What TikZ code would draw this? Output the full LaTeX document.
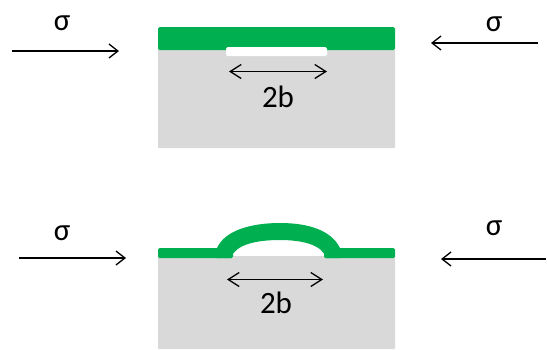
\documentclass[tikz,border=0pt]{standalone}
\usepackage{fontspec}
\setmainfont{Carlito}
\usetikzlibrary{arrows.meta}
\definecolor{filmgreen}{HTML}{00B050}
\definecolor{subgrey}{HTML}{D9D9D9}
\tikzset{
  x=1pt,y=-1pt,
  lab/.style={font=\fontsize{31}{33}\selectfont,text=black,inner sep=0pt,anchor=base},
  stress/.style={draw=black,line width=1.3pt,-{Straight Barb[length=9pt,width=14pt,line width=1.3pt]}},
  crack/.style={draw=black,line width=1.3pt,{Straight Barb[length=11pt,width=14pt,line width=1.3pt]}-{Straight Barb[length=11pt,width=14pt,line width=1.3pt]}},
  grey block/.style={fill=subgrey,draw=none,rounded corners=1pt},
  film/.style={fill=filmgreen,draw=none,rounded corners=1.5pt},
}
\begin{document}
\begin{tikzpicture}
\useasboundingbox (0,0) rectangle (547,349);
% top specimen
\path[grey block] (158,49) rectangle (395,148);
\path[film] (158,27) rectangle (395,50);
\path[fill=white,rounded corners=1.5pt] (226,47) rectangle (327,56);
\coordinate (c1l) at (229,71.5);
\coordinate (c1r) at (327,71.5);
\draw[crack] (c1l) -- (c1r);
\node[lab] (b1) at (278,107.5) {2b};
% bottom specimen
\path[grey block] (158,255) rectangle (395,349);
\path[fill=white] (231,250) rectangle (326,256);
\path[fill=filmgreen,rounded corners=1.5pt] (158,248) rectangle (233,258);
\path[fill=filmgreen,rounded corners=1.5pt] (324,248) rectangle (395,258);
\path[fill=filmgreen] (217,248)
  .. controls (225,230) and (252,223) .. (280,223)
  .. controls (308,223) and (331,230) .. (340,248)
  -- (340,258) -- (326,258)
  .. controls (323,246) and (305,240) .. (280,240)
  .. controls (255,240) and (235,245) .. (231,258)
  -- (217,258) -- cycle;
\coordinate (c2l) at (227,279.5);
\coordinate (c2r) at (323,279.5);
\draw[crack] (c2l) -- (c2r);
\node[lab] (b2) at (276,313.5) {2b};
% stress arrows
\coordinate (a1s) at (12,51); \coordinate (a1e) at (119,51);
\coordinate (a2s) at (538,43); \coordinate (a2e) at (431,43);
\coordinate (a3s) at (19,258); \coordinate (a3e) at (126,258);
\coordinate (a4s) at (546,259); \coordinate (a4e) at (441,259);
\draw[stress] (a1s) -- (a1e);
\draw[stress] (a2s) -- (a2e);
\draw[stress] (a3s) -- (a3e);
\draw[stress] (a4s) -- (a4e);
\node[lab] (s1) at (62,30) {σ};
\node[lab] (s2) at (494,31) {σ};
\node[lab] (s3) at (62,240) {σ};
\node[lab] (s4) at (494,235) {σ};
\end{tikzpicture}
\end{document}
